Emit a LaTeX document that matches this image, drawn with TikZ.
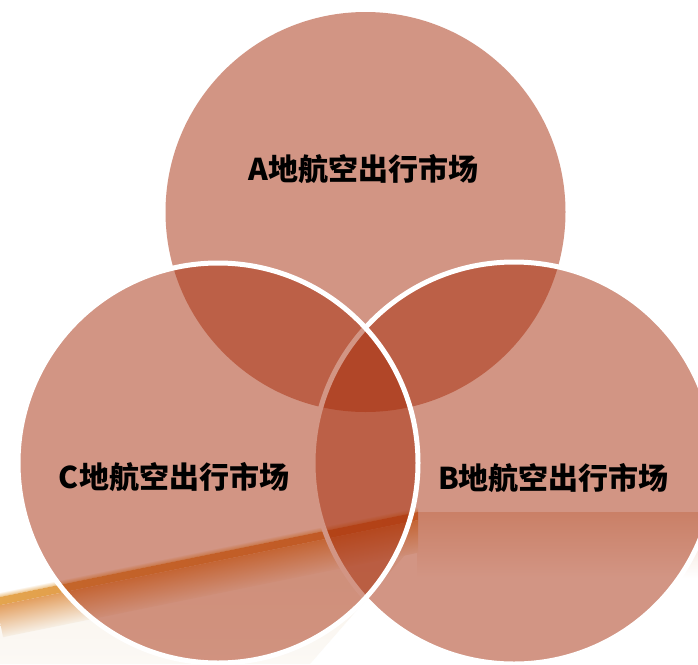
\documentclass[tikz,border=0pt]{standalone}
\usepackage{fontspec}
\newfontfamily\cjk{Noto Sans CJK SC}
\definecolor{circ}{RGB}{167,45,11}
\definecolor{cream}{RGB}{247,240,230}
\definecolor{gold}{RGB}{228,165,78}
\definecolor{streak}{RGB}{218,128,62}
\definecolor{bandtop}{RGB}{238,212,196}
\tikzset{
  bubble/.style={fill=circ, fill opacity=0.5},
  bubbleedge/.style={fill=circ, fill opacity=0.5, draw=white, draw opacity=1, line width=5pt},
  lbl/.style={font=\cjk\bfseries\fontsize{30}{36}\selectfont, text=black, inner sep=0pt}
}
\begin{document}
\begin{tikzpicture}[x=1pt,y=-1pt]
\useasboundingbox (0,0) rectangle (698,664);
\fill[white] (0,0) rectangle (698,664);
% background decoration
\begin{scope}
\clip (0,0) rectangle (698,664);
\shade[top color=bandtop, bottom color=white] (417,512) rectangle (698,578);
\shade[top color=cream, bottom color=white!60!cream] (0,597) -- (417,512) -- (405,555) -- (310,664) -- (0,664) -- cycle;
\end{scope}
\begin{scope}
\clip (0,0) rectangle (418,664);
\begin{scope}[transform canvas={shift={(0,597)}, rotate=11.5}]
  \shade[top color=white, bottom color=gold!70!white] (-5,-5) rectangle (430,0);
  \shade[left color=gold, right color=streak] (-5,0) rectangle (430,8);
  \shade[top color=streak!60!gold!85!white, bottom color=cream] (-5,8) rectangle (430,40);
\end{scope}
\end{scope}
% circles
\path[bubble] (365.5,212) circle[radius=200];
\path[bubbleedge] (514,463) circle[radius=201];
\path[bubbleedge] (218,463) circle[radius=200];
% labels
\node[lbl] (A) at (363.5,169) {A地航空出行市场};
\node[lbl] (C) at (174,477) {C地航空出行市场};
\node[lbl] (B) at (553.5,478) {B地航空出行市场};
\end{tikzpicture}
\end{document}
